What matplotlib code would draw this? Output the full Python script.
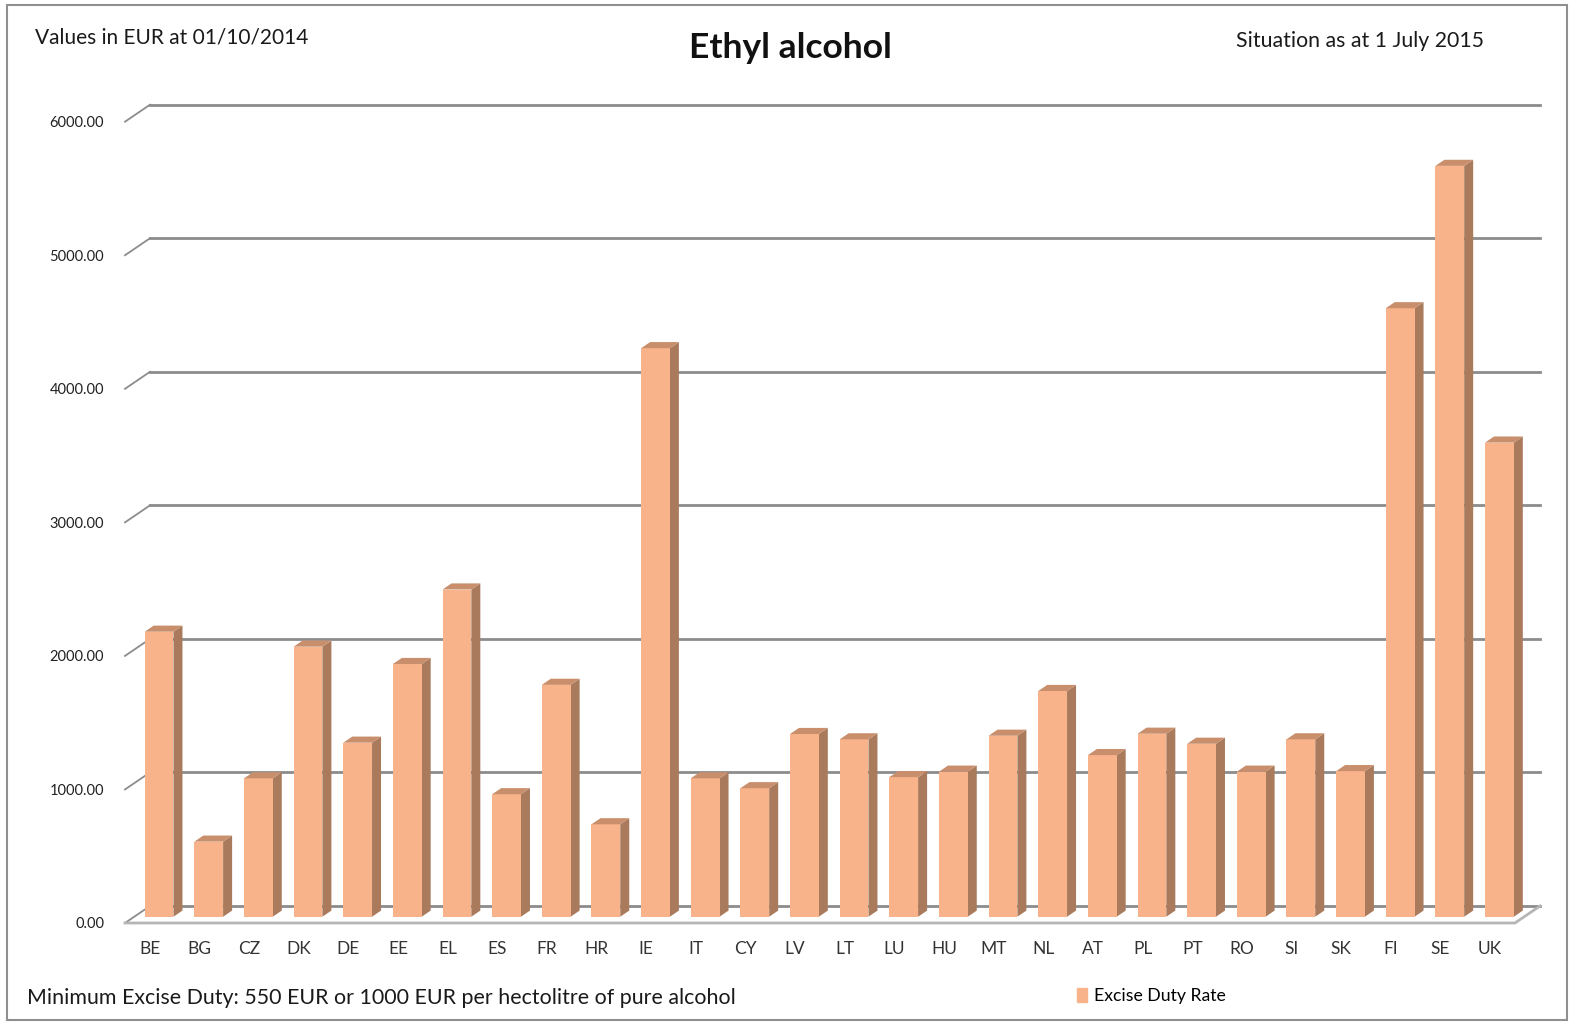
import matplotlib.pyplot as plt
from matplotlib.patches import Patch, Rectangle

# Excise duty on ethyl alcohol, EUR per hl of pure alcohol
countries = ['BE', 'BG', 'CZ', 'DK', 'DE', 'EE', 'EL', 'ES', 'FR', 'HR', 'IE', 'IT', 'CY', 'LV',
             'LT', 'LU', 'HU', 'MT', 'NL', 'AT', 'PL', 'PT', 'RO', 'SI', 'SK', 'FI', 'SE', 'UK']
rates = [2134, 562, 1036, 2022, 1303, 1892, 2450, 917, 1736, 692, 4257, 1036, 962, 1368,
         1328, 1045, 1086, 1355, 1690, 1210, 1370, 1295, 1086, 1328, 1090, 4556, 5622, 3550]
yticks = [0, 1000, 2000, 3000, 4000, 5000, 6000]

plt.rcParams['font.family'] = ['Lato', 'DejaVu Sans']

W, H = 1575, 1025
fig = plt.figure(figsize=(W / 100, H / 100), dpi=100)

# front plane of the fake 3D box, in pixels
x0, x1, ybot, ytop = 125, 1515, 923, 121.7
ax = fig.add_axes([x0 / W, 1 - ybot / H, (x1 - x0) / W, (ybot - ytop) / H])
n = len(countries)
ax.set_xlim(-0.5, n - 0.5)
ax.set_ylim(0, 6000)

# depth of the box in data units
DX = 25 * n / (x1 - x0)
DY = 17 * 6000 / (ybot - ytop)
f0, f1 = 0.37, 0.73   # bars sit between these depth fractions
bw = 0.58

front = '#F8B38A'
side = '#A97A5C'
top = '#C98F6C'
grid = '#8C8C8C'

# back wall gridlines and left wall edges
for v in yticks:
    ax.plot([-0.5 + DX, n - 0.5 + DX], [v + DY, v + DY], color=grid, lw=2, zorder=1, clip_on=False)
    ax.plot([-0.5, -0.5 + DX], [v, v + DY], color=grid, lw=1.3, zorder=1, clip_on=False)

# floor
ax.plot([-0.5, n - 0.5, n - 0.5 + DX], [0, 0, DY], color='#B5B5B5', lw=2, zorder=1, clip_on=False)

xs = [i + f0 * DX for i in range(n)]
base = f0 * DY
d = f1 - f0
ax.bar(xs, rates, width=bw, bottom=base, color=front, zorder=3, clip_on=False)
for xc, v in zip(xs, rates):
    xl, xr, t = xc - bw / 2, xc + bw / 2, base + v
    ax.fill([xr, xr + d * DX, xr + d * DX, xr], [base, base + d * DY, t + d * DY, t],
            color=side, zorder=2, clip_on=False, lw=0)
    ax.fill([xl, xr, xr + d * DX, xl + d * DX], [t, t, t + d * DY, t + d * DY],
            color=top, zorder=4, clip_on=False, lw=0)

for s in ax.spines.values():
    s.set_visible(False)
ax.set_facecolor('none')
ax.set_yticks(yticks)
ax.set_yticklabels(['%.2f' % v for v in yticks], fontsize=10.5, color='#222222')
ax.set_xticks(range(n))
ax.set_xticklabels(countries, fontsize=12.5, color='#333333')
ax.tick_params(length=0)
ax.tick_params(axis='y', pad=15)
ax.tick_params(axis='x', pad=13)

fig.text(35 / W, 1 - 38 / H, 'Values in EUR at 01/10/2014', fontsize=15, va='center', color='#1a1a1a')
fig.text(790 / W, 1 - 48 / H, 'Ethyl alcohol', fontsize=25.5, fontweight='bold', ha='center',
         va='center', color='#111111')
fig.text(1484 / W, 1 - 41 / H, 'Situation as at 1 July 2015', fontsize=15.3, ha='right',
         va='center', color='#1a1a1a')
fig.text(27 / W, 1 - 998 / H, 'Minimum Excise Duty: 550 EUR or 1000 EUR per hectolitre of pure alcohol',
         fontsize=15.4, va='center', color='#1a1a1a')
fig.legend(handles=[Patch(color=front, label='Excise Duty Rate')], loc='center left',
           bbox_to_anchor=(1068 / W, 1 - 996 / H), frameon=False, fontsize=12.7,
           handlelength=0.6, handleheight=0.8, handletextpad=0.4, borderpad=0)

# outer border
fig.patches.append(Rectangle((7 / W, 5 / H), 1560 / W, 1015 / H, transform=fig.transFigure,
                             fill=False, edgecolor='#8F8F8F', lw=1.5))

fig.savefig('out.png', dpi=100)
